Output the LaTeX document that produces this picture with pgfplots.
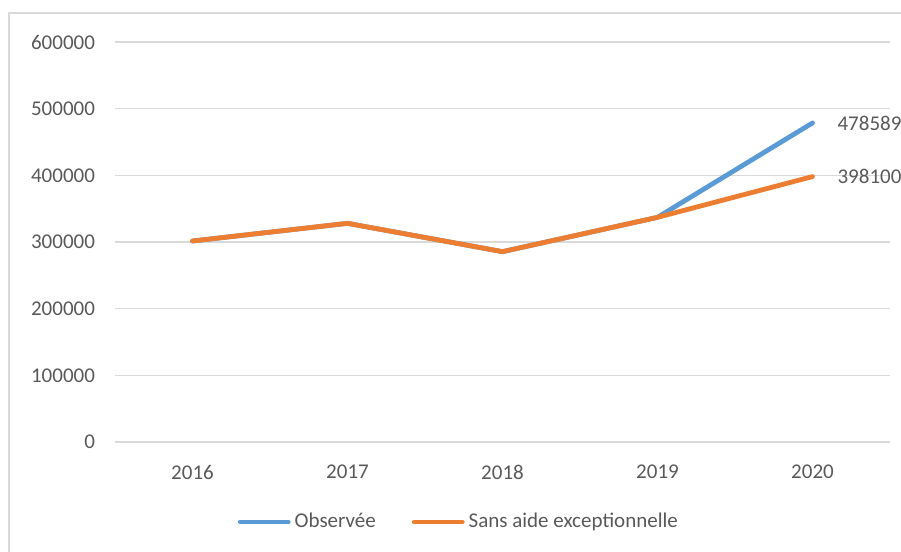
\documentclass[border=0pt]{standalone}
\usepackage{fontspec}
\setmainfont{Carlito}
\usepackage{pgfplots}
\pgfplotsset{compat=1.18}

\definecolor{serieblue}{HTML}{5B9BD5}
\definecolor{serieorange}{HTML}{ED7D31}
\definecolor{gridgray}{HTML}{D9D9D9}
\definecolor{textgray}{HTML}{595959}

\begin{document}
\begin{tikzpicture}[x=1pt,y=1pt,font=\fontsize{10.5}{12}\selectfont]
% page of 901 x 552 px at 0.5pt per px
\useasboundingbox (0,0) rectangle (450.5,276);
% chart frame (left and top edge visible)
\draw[gridgray,line width=0.8pt] (4.5,0) -- (4.5,269.5) -- (450.5,269.5);

\begin{axis}[
    at={(57.5pt,55pt)},
    anchor=south west,
    scale only axis,
    width=387.5pt,
    height=200pt,
    xmin=-0.5, xmax=4.5,
    ymin=0, ymax=600000,
    xtick={0,1,2,3,4},
    xticklabels={2016,2017,2018,2019,2020},
    ytick={0,100000,...,600000},
    scaled y ticks=false,
    /pgf/number format/1000 sep={},
    /pgf/number format/fixed,
    /pgf/number format/assume math mode=true,
    axis line style={draw=none},
    major tick length=0pt,
    ymajorgrids=true,
    grid style={gridgray,line width=0.8pt},
    tick label style={textgray},
    x tick label style={yshift=-8pt},
    y tick label style={xshift=-6.5pt},
    clip=false,
    legend columns=2,
    legend style={
        draw=none, fill=none,
        at={(0.445,-0.2)}, anchor=center,
        text=textgray,
        /tikz/every even column/.append style={column sep=16pt},
        inner sep=0pt,
    },
    legend cell align=left,
    legend image code/.code={\draw[#1,line cap=round] (0pt,0pt) -- (24pt,0pt);},
]
\addplot[serieblue, line width=2.4pt, line join=round, line cap=round]
coordinates {
    (0, 301500)
    (1, 328000)
    (2, 285500)
    (3, 337000)
    (4, 478589)
};
\addlegendentry{Observée}

\addplot[serieorange, line width=2.4pt, line join=round, line cap=round]
coordinates {
    (0, 301500)
    (1, 328000)
    (2, 285500)
    (3, 337000)
    (4, 398100)
};
\addlegendentry{Sans aide exceptionnelle}

\node[anchor=west, textgray, xshift=9pt] at (axis cs:4,478589) {478589};
\node[anchor=west, textgray, xshift=9pt] at (axis cs:4,398100) {398100};
\end{axis}
\end{tikzpicture}
\end{document}
